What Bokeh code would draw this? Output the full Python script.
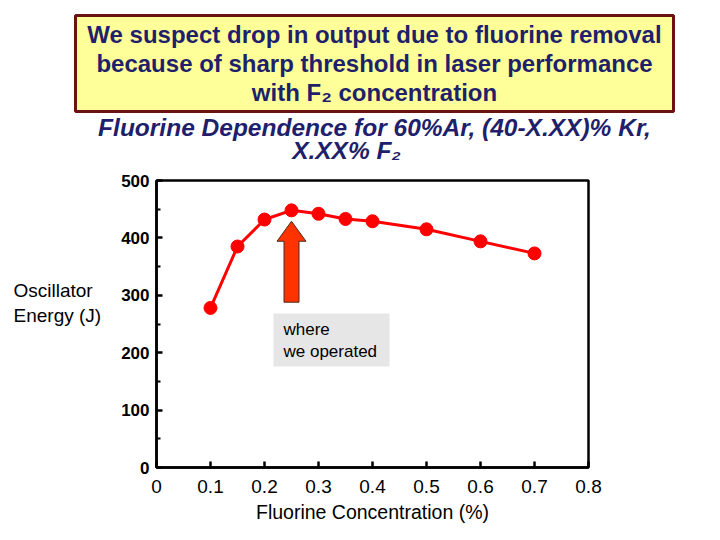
from bokeh.plotting import figure
from bokeh.models import Label, BoxAnnotation, FixedTicker, Range1d
from bokeh.embed import file_html
from bokeh.resources import INLINE

# ---- data ----
f2_pct = [0.10, 0.15, 0.20, 0.25, 0.30, 0.35, 0.40, 0.50, 0.60, 0.70]
energy = [278, 385, 432, 448, 442, 433, 429, 415, 394, 373]
x_ticks = [0, 0.1, 0.2, 0.3, 0.4, 0.5, 0.6, 0.7, 0.8]
x_tick_labels = ["0", "0.1", "0.2", "0.3", "0.4", "0.5", "0.6", "0.7", "0.8"]
y_ticks = [0, 100, 200, 300, 400, 500]
y_tick_labels = ["0", "100", "200", "300", "400", "500"]
y_minor_ticks = [50, 150, 250, 350, 450]
x_bounds = (0, 0.8)
y_bounds = (0, 500)
title_lines = ["We suspect drop in output due to fluorine removal",
               "because of sharp threshold in laser performance",
               "with F\u2082 concentration"]
subtitle_lines = ["Fluorine Dependence for 60%Ar, (40-X.XX)% Kr,",
                  "X.XX% F\u2082"]
ylabel_lines = ["Oscillator", "Energy (J)"]
note_lines = ["where", "we operated"]
operated_x = 0.25
arrow_base, arrow_tip = 288, 429

FONT = "Liberation Sans"
NAVY = "#1F1F6B"

# ---- layout: the frame fills the canvas; the plot box is drawn at fixed place ----
W, H = 704, 524
BOX_L, BOX_R, BOX_T, BOX_B = 156, 588, 180, 467   # plot box in canvas px
PX_X = (BOX_R - BOX_L) / (x_bounds[1] - x_bounds[0])
PX_Y = (BOX_B - BOX_T) / (y_bounds[1] - y_bounds[0])
xr = Range1d(x_bounds[0] - BOX_L / PX_X, x_bounds[0] + (W - BOX_L) / PX_X)
yr = Range1d(y_bounds[0] - (H - BOX_B) / PX_Y, y_bounds[0] + BOX_B / PX_Y)


def sx(px):
    return px


def sy(py):
    return H - py


p = figure(width=W, height=H, x_range=xr, y_range=yr,
           output_backend="svg", toolbar_location=None,
           min_border=0, min_border_left=0, min_border_right=0,
           min_border_top=0, min_border_bottom=0)
p.xgrid.visible = False
p.ygrid.visible = False
p.outline_line_color = None
p.background_fill_color = "white"
p.border_fill_color = "white"

# axes
xa = p.xaxis[0]
xa.fixed_location = y_bounds[0]
xa.bounds = x_bounds
xa.ticker = FixedTicker(ticks=x_ticks)
xa.major_label_overrides = {t: l for t, l in zip(x_ticks, x_tick_labels)}
xa.major_tick_in = 6
xa.major_tick_out = 0
xa.minor_tick_in = 0
xa.minor_tick_out = 0
xa.axis_line_width = 2.5
xa.major_tick_line_width = 2.5
xa.major_label_text_font = FONT
xa.major_label_text_font_size = "19px"
xa.major_label_text_color = "black"
xa.major_label_standoff = 12
xa.axis_label = "Fluorine Concentration (%)"
xa.axis_label_text_font = FONT
xa.axis_label_text_font_size = "19.5px"
xa.axis_label_text_font_style = "normal"
xa.axis_label_text_color = "black"
xa.axis_label_standoff = 5

ya = p.yaxis[0]
ya.fixed_location = x_bounds[0]
ya.bounds = y_bounds
ya.ticker = FixedTicker(ticks=y_ticks, minor_ticks=y_minor_ticks)
ya.major_label_overrides = {t: l for t, l in zip(y_ticks, y_tick_labels)}
ya.major_tick_in = 6
ya.major_tick_out = 0
ya.minor_tick_in = 4
ya.minor_tick_out = 0
ya.axis_line_width = 2.5
ya.major_tick_line_width = 2.5
ya.minor_tick_line_width = 2
ya.major_label_text_font = FONT
ya.major_label_text_font_size = "17px"
ya.major_label_text_font_style = "bold"
ya.major_label_text_color = "black"
ya.major_label_standoff = 7

# plot box (top and right edges)
p.add_layout(BoxAnnotation(left=x_bounds[0], right=x_bounds[1], bottom=y_bounds[0], top=y_bounds[1],
                           fill_alpha=0, line_color="black", line_alpha=1, line_width=2.5))

# data
p.line(f2_pct, energy, line_color="#FF0000", line_width=3)
p.scatter(f2_pct, energy, size=13, fill_color="#FF0000", line_color="#FF0000")

# arrow (block arrow pointing at the operating point)
hw = 7.5 / PX_X
hh = 14.5 / PX_X
neck = arrow_tip - 20 / PX_Y
p.patch([operated_x - hw, operated_x + hw, operated_x + hw, operated_x + hh, operated_x,
         operated_x - hh, operated_x - hw],
        [arrow_base, arrow_base, neck, neck, arrow_tip, neck, neck],
        fill_color="#FF3300", line_color="#4a2a20", line_width=1)

# note box
p.add_layout(BoxAnnotation(left=sx(273), right=sx(389), bottom=sy(366), top=sy(313),
                           left_units="screen", right_units="screen",
                           bottom_units="screen", top_units="screen",
                           fill_color="#E6E6E6", fill_alpha=1, line_color=None))
for i, t in enumerate(note_lines):
    p.add_layout(Label(x=sx(283), y=sy(329 + 22 * i), x_units="screen", y_units="screen",
                       text=t, text_font=FONT, text_font_size="17px", text_color="black",
                       text_align="left", text_baseline="middle"))

# y label
for i, t in enumerate(ylabel_lines):
    p.add_layout(Label(x=sx(13), y=sy(290 + 25 * i), x_units="screen", y_units="screen",
                       text=t, text_font=FONT, text_font_size="19px", text_color="black",
                       text_align="left", text_baseline="middle"))

# title box
p.add_layout(BoxAnnotation(left=sx(75), right=sx(673), bottom=sy(111), top=sy(15),
                           left_units="screen", right_units="screen",
                           bottom_units="screen", top_units="screen",
                           fill_color="#FFFF99", fill_alpha=1,
                           line_color="#6B1212", line_alpha=1, line_width=3))
for i, t in enumerate(title_lines):
    p.add_layout(Label(x=sx(374), y=sy(34 + 29 * i), x_units="screen", y_units="screen",
                       text=t, text_font=FONT, text_font_size="24px", text_font_style="bold",
                       text_color=NAVY, text_align="center", text_baseline="middle"))

# subtitle
sub_x = [374, 346]
sub_y = [127, 150]
for i, t in enumerate(subtitle_lines):
    p.add_layout(Label(x=sx(sub_x[i]), y=sy(sub_y[i]), x_units="screen", y_units="screen",
                       text=t, text_font=FONT, text_font_size="24.5px", text_font_style="bold italic",
                       text_color=NAVY, text_align="center", text_baseline="middle"))

open("out.html", "w").write(file_html(p, INLINE))
